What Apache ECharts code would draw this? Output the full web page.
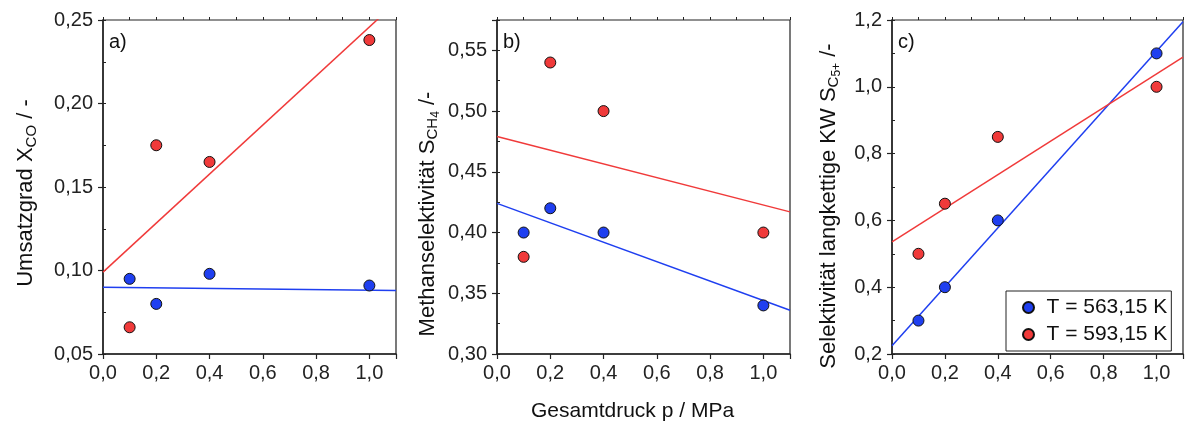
<!DOCTYPE html>
<html>
<head>
<meta charset="utf-8">
<script src="https://cdn.jsdelivr.net/npm/echarts@6/dist/echarts.min.js"></script>
<style>html,body{margin:0;padding:0;background:#fff;}#c{width:1186px;height:423px;}</style>
</head>
<body>
<div id="c"></div>
<script>
// ---- data ----
const pressure = [0.1, 0.2, 0.4, 1.0];            // Gesamtdruck p / MPa
const seriesNames = ['T = 563,15 K', 'T = 593,15 K'];
// a) Umsatzgrad X_CO
const convLow  = [0.095, 0.080, 0.098, 0.091];
const convHigh = [0.066, 0.175, 0.165, 0.238];
// b) Methanselektivität S_CH4
const ch4Low  = [0.40, 0.42, 0.40, 0.34];
const ch4High = [0.38, 0.54, 0.50, 0.40];
// c) Selektivität langkettige KW S_C5+
const c5Low  = [0.30, 0.40, 0.60, 1.10];
const c5High = [0.50, 0.65, 0.85, 1.00];
// linear fit lines (values at the fit end points)
const fitX = [0, 1.1];
const fitConvLow  = [0.090, 0.088];
const fitConvHigh = [0.099, 0.2605];
const fitCh4Low   = [0.424, 0.336];
const fitCh4High  = [0.479, 0.417];
const fitC5Low    = [0.225, 1.195];
const fitC5High   = [0.536, 1.089];
// axis ranges / ticks
const xRange = [0, 1.1, 0.2, 0.1];
const yRanges = [[0.05, 0.25, 0.05, 0.025, 2], [0.30, 0.575, 0.05, 0.025, 2], [0.2, 1.2, 0.2, 0.1, 1]];
const panelLabels = ['a)', 'b)', 'c)'];
const xTitle = 'Gesamtdruck p / MPa';
const yTitles = [
  'Umsatzgrad X{sub|CO} / -',
  'Methanselektivität S{sub|CH}{sub2|4} /-',
  'Selektivität langkettige KW S{sub|C}{sub2|5+} /-'
];

// ---- layout ----
const FONT = '"Liberation Sans", Arial, sans-serif';
const BLUE = '#1f3ff0';
const RED = '#f03a3a';
const AX = '#222';
const grids = [
  {left: 103, right: 790, top: 20, bottom: 69},
  {left: 497, right: 396, top: 20, bottom: 69},
  {left: 892, right: 1, top: 20, bottom: 69}
];
const nameGaps = [64, 55, 49];
const namePads = [[0, 12, 0, 0], [0, 54, 0, 0], [0, 38, 0, 0]];

const comma = (v, d) => v.toFixed(d).replace('.', ',');
const xAxes = [], yAxes = [], series = [];
grids.forEach((g, i) => {
  xAxes.push({
    type: 'value', gridIndex: i, min: xRange[0], max: xRange[1], interval: xRange[2],
    axisLine: {show: true, onZero: false, lineStyle: {color: AX, width: 1.5}},
    axisTick: {show: true, length: 5, lineStyle: {color: AX, width: 1.2}},
    axisLabel: {margin: 9, fontSize: 20, fontFamily: FONT, color: AX,
      formatter: v => v > xRange[1] - 0.05 ? '' : comma(v, 1)},
    splitLine: {show: false}
  });
  xAxes.push({
    type: 'value', gridIndex: i, min: xRange[0], max: xRange[1], interval: xRange[3],
    axisLine: {show: false}, axisLabel: {show: false}, splitLine: {show: false},
    axisTick: {show: true, length: 3, lineStyle: {color: AX, width: 1}}
  });
  const yr = yRanges[i];
  yAxes.push({
    type: 'value', gridIndex: i, min: yr[0], max: yr[1], interval: yr[2],
    name: yTitles[i], nameLocation: 'middle', nameRotate: 90, nameGap: nameGaps[i],
    nameTextStyle: {fontSize: 22, fontFamily: FONT, color: '#111', padding: namePads[i],
      rich: {
        sub: {fontSize: 15, fontFamily: FONT, color: '#111', padding: [11, 0, 0, 0]},
        sub2: {fontSize: 12, fontFamily: FONT, color: '#111', padding: [17, 0, 0, 0]}
      }},
    axisLine: {show: true, onZero: false, lineStyle: {color: AX, width: 1.5}},
    axisTick: {show: true, length: 5, lineStyle: {color: AX, width: 1.2}},
    axisLabel: {margin: 10, fontSize: 20, fontFamily: FONT, color: AX,
      formatter: v => v > Math.floor((yr[1] + 1e-9) / yr[2]) * yr[2] + 1e-6 ? '' : comma(v, yr[4])},
    splitLine: {show: false}
  });
  yAxes.push({
    type: 'value', gridIndex: i, min: yr[0], max: yr[1], interval: yr[3],
    axisLine: {show: false}, axisLabel: {show: false}, splitLine: {show: false},
    axisTick: {show: true, length: 3, lineStyle: {color: AX, width: 1}}
  });
});

const panels = [
  [convLow, convHigh, fitConvLow, fitConvHigh],
  [ch4Low, ch4High, fitCh4Low, fitCh4High],
  [c5Low, c5High, fitC5Low, fitC5High]
];
panels.forEach((p, i) => {
  const colors = [BLUE, RED];
  [0, 1].forEach(k => {
    series.push({
      type: 'line', xAxisIndex: 2 * i, yAxisIndex: 2 * i, silent: true,
      data: fitX.map((x, j) => [x, p[2 + k][j]]),
      showSymbol: false, clip: true, z: 2,
      lineStyle: {color: colors[k], width: 1.5}
    });
  });
  [0, 1].forEach(k => {
    series.push({
      type: 'scatter', name: seriesNames[k], xAxisIndex: 2 * i, yAxisIndex: 2 * i,
      data: pressure.map((x, j) => [x, p[k][j]]),
      symbol: 'circle', symbolSize: 11, z: 3,
      itemStyle: {color: colors[k], borderColor: '#111', borderWidth: 1, opacity: 1}
    });
  });
});

const graphics = panelLabels.map((t, i) => ({
  type: 'text', left: grids[i].left + 6, top: 32,
  style: {text: t, fontSize: 20, fontFamily: FONT, fill: '#111'}
}));
graphics.push({
  type: 'text', left: 531, top: 401,
  style: {text: xTitle, fontSize: 21, fontFamily: FONT, fill: '#111'}
});

const chart = echarts.init(document.getElementById('c'), null, {renderer: 'canvas'});
chart.setOption({
  animation: false,
  backgroundColor: '#fff',
  grid: grids.map(g => Object.assign({show: true, borderColor: AX, borderWidth: 1.2, backgroundColor: 'transparent'}, g)),
  xAxis: xAxes,
  yAxis: yAxes,
  legend: {
    show: true, data: seriesNames, orient: 'vertical', left: 1006, top: 291,
    padding: [6, 4, 6, 16], itemWidth: 20, itemHeight: 11, itemGap: 6,
    borderColor: AX, borderWidth: 1, backgroundColor: '#fff',
    textStyle: {fontSize: 21, fontFamily: FONT, color: '#111', padding: [0, 0, 0, 3]},
    selectedMode: false
  },
  graphic: graphics,
  series: series
});
</script>
</body>
</html>
